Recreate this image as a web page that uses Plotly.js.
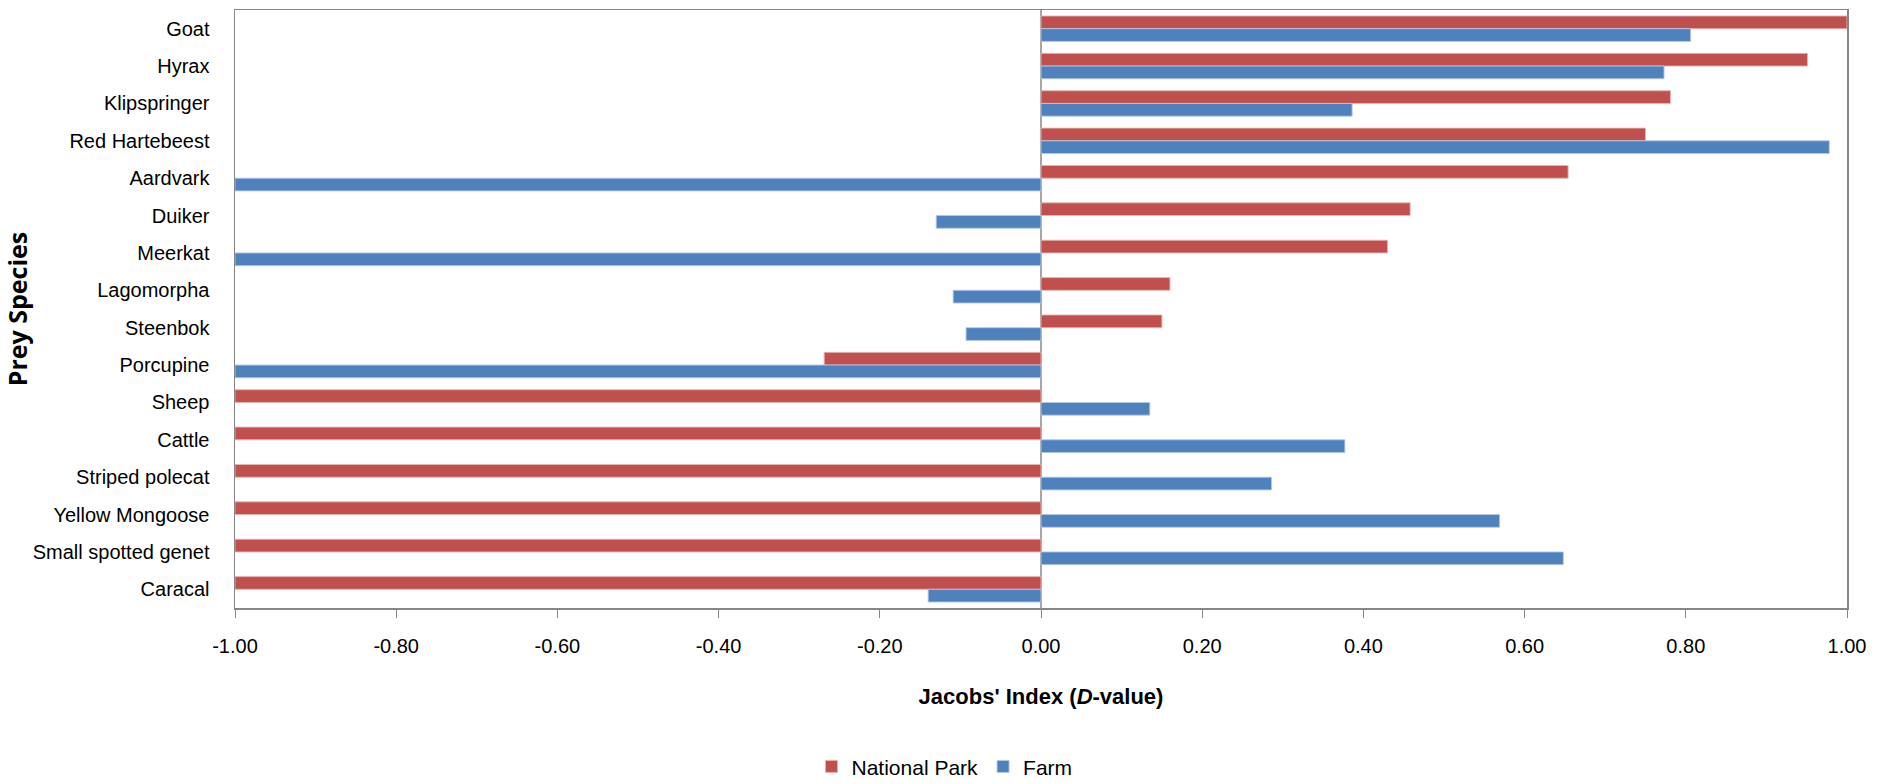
<!DOCTYPE html>
<html>
<head>
<meta charset="utf-8">
<script src="https://cdn.plot.ly/plotly-3.0.1.min.js"></script>
<style>html,body{margin:0;padding:0;background:#fff;}#chart{width:1889px;height:784px;}</style>
</head>
<body>
<div id="chart"></div>
<script>
const species = ["Goat","Hyrax","Klipspringer","Red Hartebeest","Aardvark","Duiker","Meerkat","Lagomorpha","Steenbok","Porcupine","Sheep","Cattle","Striped polecat","Yellow Mongoose","Small spotted genet","Caracal"];
const nationalPark = [1.00, 0.951, 0.781, 0.750, 0.654, 0.458, 0.430, 0.160, 0.150, -0.269, -1.00, -1.00, -1.00, -1.00, -1.00, -1.00];
const farm = [0.806, 0.773, 0.386, 0.978, -1.00, -0.130, -1.00, -0.109, -0.093, -1.00, 0.135, 0.377, 0.286, 0.569, 0.648, -0.140];
const tickVals = [-1, -0.8, -0.6, -0.4, -0.2, 0, 0.2, 0.4, 0.6, 0.8, 1];
const tickText = ["-1.00","-0.80","-0.60","-0.40","-0.20","0.00","0.20","0.40","0.60","0.80","1.00"];

const FONT = "'Liberation Sans', sans-serif";

const traces = [
  {type:'bar', orientation:'h', name:'National Park', y:species, x:nationalPark,
   marker:{color:'#C0504D', line:{color:'rgba(230,180,180,0.9)', width:1}}},
  {type:'bar', orientation:'h', name:'Farm', y:species, x:farm,
   marker:{color:'#4F81BD', line:{color:'rgba(180,200,230,0.9)', width:1}}}
];

const layout = {
  width:1889, height:784,
  margin:{l:235, r:42, t:10, b:176},
  paper_bgcolor:'#fff', plot_bgcolor:'#fff',
  font:{family:FONT, size:20, color:'#000'},
  barmode:'group', bargap:0.32, bargroupgap:0,
  showlegend:true,
  legend:{orientation:'h', xref:'container', x:0.5, xanchor:'center', yref:'container', y:0.022, yanchor:'middle',
    font:{size:21}, itemwidth:30, traceorder:'normal'},
  xaxis:{range:[-1,1], tickvals:tickVals, ticktext:tickText, ticks:'outside', ticklen:8, tickcolor:'#868686',
    showline:true, mirror:true, linecolor:'#868686', linewidth:1.5, showgrid:false,
    zeroline:true, zerolinecolor:'#A6A6A6', zerolinewidth:1.5,
    tickfont:{size:20}, ticklabelstandoff:11,
    title:{text:"<b>Jacobs' Index (<i>D</i>-value)</b>", font:{size:22}, standoff:33}},
  yaxis:{type:'category', autorange:'reversed', ticks:'', showline:true, mirror:true, linecolor:'#868686', linewidth:1.5,
    showgrid:false, tickfont:{size:20}, ticklabelstandoff:20,
    title:{text:'<b>Prey Species</b>', font:{size:25, family:"'Open Sans', sans-serif"}, standoff:3}}
};

Plotly.newPlot('chart', traces, layout, {displayModeBar:false, staticPlot:true});
</script>
</body>
</html>
